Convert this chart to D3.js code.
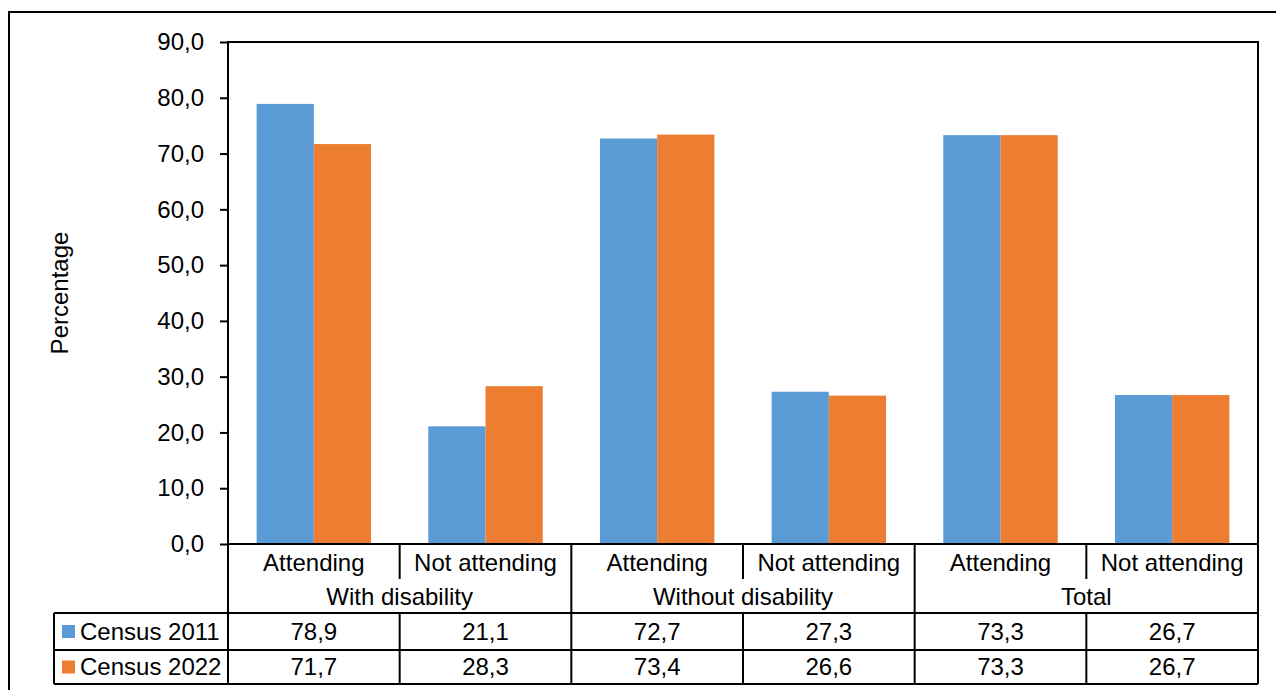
<!DOCTYPE html>
<html>
<head>
<meta charset="utf-8">
<script src="https://cdn.jsdelivr.net/npm/d3@7"></script>
<style>
  html, body { margin: 0; padding: 0; background: #fff; }
  svg { display: block; font-family: "Liberation Sans", Arial, sans-serif; }
</style>
</head>
<body>
<svg id="chart" width="1276" height="690"></svg>
<script>
// School attendance by disability status, Census 2011 vs 2022
const groups = ["With disability", "Without disability", "Total"];
const statuses = ["Attending", "Not attending"];
const seriesNames = ["Census 2011", "Census 2022"];
const census2011 = [78.9, 21.1, 72.7, 27.3, 73.3, 26.7];
const census2022 = [71.7, 28.3, 73.4, 26.6, 73.3, 26.7];
const yTicks = [0, 10, 20, 30, 40, 50, 60, 70, 80, 90];
const colors = ["#5B9BD5", "#ED7D31"];

const seriesValues = [census2011, census2022];
const cats = groups.flatMap(g => statuses.map(s => ({ group: g, status: s, key: g + "|" + s })));

const svg = d3.select("#chart");
const plot = { left: 228, right: 1258, top: 42, bottom: 544 };
const table = { left: 54, statusBottom: 579, groupBottom: 613, row1Bottom: 650, row2Bottom: 684 };
const lineColor = "#000";
const fontSize = 24;
const fontFamily = "Liberation Sans, Arial, sans-serif";

// Outer frame
svg.append("rect")
  .attr("x", 9).attr("y", 12)
  .attr("width", 1300).attr("height", 720)
  .attr("fill", "none").attr("stroke", lineColor).attr("stroke-width", 2);

const x = d3.scaleBand()
  .domain(cats.map(c => c.key))
  .range([plot.left, plot.right])
  .padding(0);

const xSeries = d3.scaleBand()
  .domain(seriesNames)
  .range([x.bandwidth() / 6, x.bandwidth() * 5 / 6])
  .padding(0);

const y = d3.scaleLinear().domain([0, 90]).range([plot.bottom, plot.top]);

// Bars
seriesNames.forEach((name, si) => {
  svg.append("g").selectAll("rect")
    .data(cats.map((c, i) => ({ key: c.key, value: seriesValues[si][i] })))
    .join("rect")
    .attr("x", d => x(d.key) + xSeries(name))
    .attr("width", xSeries.bandwidth())
    .attr("y", d => y(d.value))
    .attr("height", d => y(0) - y(d.value))
    .attr("fill", colors[si]);
});

// Y axis
const yAxis = d3.axisLeft(y)
  .tickValues(yTicks)
  .tickSize(8)
  .tickPadding(16)
  .tickFormat(d => d3.format(".1f")(d).replace(".", ","));
const gy = svg.append("g").attr("transform", `translate(${plot.left},0)`).call(yAxis)
  .attr("font-size", fontSize).attr("font-family", fontFamily);
gy.select(".domain").remove();
gy.selectAll(".tick line").attr("stroke", lineColor).attr("stroke-width", 2);
gy.selectAll(".tick text").attr("fill", "#000");

// Plot frame
svg.append("rect")
  .attr("x", plot.left).attr("y", plot.top)
  .attr("width", plot.right - plot.left).attr("height", plot.bottom - plot.top)
  .attr("fill", "none").attr("stroke", lineColor).attr("stroke-width", 2);

// Y axis title
svg.append("text")
  .attr("transform", `translate(68,${(plot.top + plot.bottom) / 2}) rotate(-90)`)
  .attr("text-anchor", "middle")
  .attr("font-size", fontSize)
  .text("Percentage");

const grid = svg.append("g").attr("stroke", lineColor).attr("stroke-width", 2);
const line = (x1, y1, x2, y2) => grid.append("line")
  .attr("x1", x1).attr("y1", y1).attr("x2", x2).attr("y2", y2);

// Category header: status labels
cats.forEach(c => {
  svg.append("text")
    .attr("x", x(c.key) + x.bandwidth() / 2).attr("y", 571)
    .attr("text-anchor", "middle").attr("font-size", fontSize)
    .text(c.status);
});
// Separators within groups (status level)
cats.forEach((c, i) => {
  if (i % 2 === 1) line(x(c.key), plot.bottom, x(c.key), table.statusBottom);
});
// Group labels and group separators
groups.forEach(g => {
  const start = x(g + "|" + statuses[0]);
  const end = x(g + "|" + statuses[1]) + x.bandwidth();
  svg.append("text")
    .attr("x", (start + end) / 2).attr("y", 605)
    .attr("text-anchor", "middle").attr("font-size", fontSize)
    .text(g);
  line(start, plot.bottom, start, table.row2Bottom);
});
line(plot.right, plot.bottom, plot.right, table.row2Bottom);

// Data table
const rowTops = [table.groupBottom, table.row1Bottom];
const rowBottoms = [table.row1Bottom, table.row2Bottom];
line(table.left, table.groupBottom, plot.right, table.groupBottom);
line(table.left, table.row1Bottom, plot.right, table.row1Bottom);
line(table.left, table.row2Bottom, plot.right, table.row2Bottom);
line(table.left, table.groupBottom, table.left, table.row2Bottom);
cats.forEach((c, i) => {
  if (i % 2 === 1) line(x(c.key), table.groupBottom, x(c.key), table.row2Bottom);
});

seriesNames.forEach((name, si) => {
  const top = rowTops[si], bottom = rowBottoms[si];
  const mid = (top + bottom) / 2;
  svg.append("rect")
    .attr("x", 62).attr("y", mid - 6.5)
    .attr("width", 13).attr("height", 13)
    .attr("fill", colors[si]);
  svg.append("text")
    .attr("x", 80).attr("y", mid + 8)
    .attr("font-size", fontSize)
    .text(name);
  cats.forEach((c, i) => {
    svg.append("text")
      .attr("x", x(c.key) + x.bandwidth() / 2).attr("y", mid + 8)
      .attr("text-anchor", "middle").attr("font-size", fontSize)
      .text(d3.format(".1f")(seriesValues[si][i]).replace(".", ","));
  });
});
</script>
</body>
</html>
